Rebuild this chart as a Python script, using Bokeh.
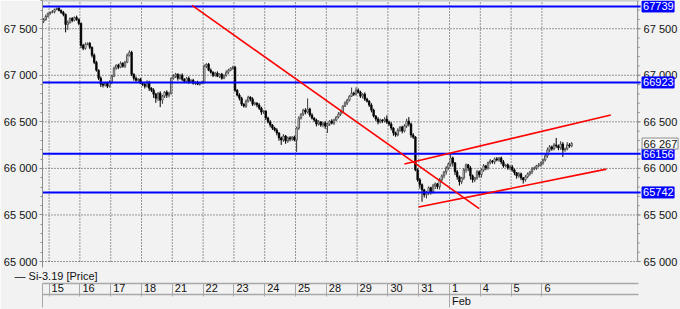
import numpy as np
from bokeh.plotting import figure
from bokeh.models import ColumnDataSource, Range1d, LinearAxis, FixedTicker, Title
from bokeh.core.properties import value
from bokeh.embed import file_html
from bokeh.resources import INLINE

# ---------------- data ----------------
instrument = "Si-3.19 [Price]"
day_labels = ["15", "16", "17", "18", "21", "22", "23", "24", "25", "28", "29", "30", "31", "1", "4", "5", "6"]
month_label = "Feb"
month_day = "1"

first_open = 67580
# hourly closes (last bars of 14 Jan, then 14 bars per trading day)
close_pre = [67600, 67632, 67664]
close_15 = [67675, 67685, 67707, 67717, 67696, 67675, 67653, 67546, 67568, 67610, 67589, 67621, 67600, 67557]
close_16 = [67322, 67289, 67332, 67343, 67300, 67215, 67140, 67054, 66968, 66904, 66894, 66915, 66883, 66926]
close_17 = [66990, 67075, 67108, 67086, 67129, 67097, 67140, 67215, 67247, 67011, 66968, 66947, 66958, 66915]
close_18 = [66904, 66883, 66926, 66861, 66840, 66797, 66754, 66808, 66733, 66776, 66819, 66787, 66808, 66968]
close_21 = [66990, 67011, 66968, 67000, 66958, 66936, 66968, 66926, 66947, 66915, 66926, 66904, 66915, 66926]
close_22 = [67097, 67118, 67054, 67033, 67000, 67022, 66990, 67011, 66968, 67000, 67033, 67054, 67075, 67086]
close_23 = [66840, 66787, 66754, 66690, 66669, 66722, 66765, 66744, 66690, 66701, 66680, 66647, 66605, 66615]
close_24 = [66540, 66498, 66466, 66433, 66412, 66380, 66327, 66305, 66348, 66294, 66327, 66316, 66337, 66305]
close_25 = [66433, 66540, 66583, 66626, 66605, 66637, 66573, 66540, 66519, 66476, 66498, 66466, 66487, 66455]
close_28 = [66476, 66508, 66487, 66519, 66551, 66583, 66605, 66669, 66701, 66733, 66776, 66808, 66797, 66840]
close_29 = [66819, 66776, 66797, 66744, 66722, 66680, 66626, 66562, 66530, 66498, 66519, 66508, 66530, 66498]
close_30 = [66476, 66433, 66380, 66359, 66412, 66444, 66401, 66455, 66508, 66476, 66359, 66337, 65984, 65877]
close_31 = [65824, 65770, 65717, 65738, 65792, 65749, 65813, 65834, 65802, 65877, 65920, 65963, 66005, 66048]
close_01 = [66112, 66059, 65963, 65909, 65856, 65898, 65984, 66038, 66005, 65920, 65877, 65898, 65963, 65931]
close_04 = [65984, 66027, 66005, 66059, 66080, 66070, 66102, 66091, 66112, 66070, 66027, 66038, 66005, 66016]
close_05 = [65984, 65952, 65920, 65941, 65898, 65877, 65909, 65941, 65963, 65995, 66005, 66027, 66038, 66059]
close_06 = [66091, 66134, 66198, 66231, 66209, 66252, 66241, 66220, 66262, 66198, 66209, 66252, 66241, 66267]

# upper / lower shadow lengths (rub)
upw_pre = [15, 20, 10]
dnw_pre = [20, 15, 10]
upw_15 = [10, 15, 10, 11, 20, 10, 15, 10, 20, 10, 15, 10, 20, 10]
dnw_15 = [15, 10, 20, 10, 10, 15, 20, 85, 60, 15, 20, 10, 15, 20]
upw_16 = [10, 15, 20, 10, 15, 10, 20, 15, 10, 20, 15, 10, 15, 20]
dnw_16 = [30, 20, 15, 10, 20, 25, 20, 15, 20, 30, 25, 15, 20, 15]
upw_17 = [15, 20, 10, 15, 20, 10, 15, 20, 21, 15, 10, 20, 10, 15]
dnw_17 = [20, 10, 15, 20, 10, 15, 20, 10, 15, 20, 25, 15, 20, 10]
upw_18 = [15, 10, 20, 15, 10, 20, 15, 10, 20, 15, 10, 20, 15, 10]
dnw_18 = [20, 25, 15, 30, 20, 40, 50, 30, 75, 40, 20, 30, 25, 15]
upw_21 = [20, 15, 10, 15, 20, 10, 15, 20, 10, 15, 10, 15, 10, 15]
dnw_21 = [15, 20, 25, 15, 20, 10, 15, 20, 10, 15, 20, 10, 15, 10]
upw_22 = [20, 11, 15, 20, 10, 15, 20, 10, 15, 10, 20, 15, 10, 15]
dnw_22 = [15, 20, 10, 15, 20, 15, 10, 20, 15, 10, 15, 20, 10, 15]
upw_23 = [15, 10, 20, 15, 10, 20, 15, 10, 20, 15, 10, 20, 15, 10]
dnw_23 = [20, 15, 25, 20, 15, 20, 15, 25, 20, 15, 25, 20, 30, 20]
upw_24 = [10, 15, 20, 10, 15, 20, 10, 15, 20, 10, 15, 20, 10, 15]
dnw_24 = [20, 15, 25, 20, 15, 25, 30, 53, 20, 30, 20, 25, 20, 15]
upw_25 = [15, 20, 10, 15, 20, 115, 15, 20, 10, 15, 20, 10, 15, 20]
dnw_25 = [128, 20, 15, 20, 25, 15, 20, 15, 20, 25, 15, 20, 25, 30]
upw_28 = [15, 10, 20, 15, 10, 20, 15, 10, 20, 15, 10, 60, 15, 30]
dnw_28 = [75, 20, 15, 20, 10, 15, 20, 15, 10, 20, 15, 10, 20, 15]
upw_29 = [20, 15, 10, 20, 15, 10, 20, 15, 10, 20, 15, 10, 20, 40]
dnw_29 = [15, 20, 25, 20, 15, 20, 25, 15, 20, 25, 15, 20, 15, 20]
upw_30 = [15, 20, 10, 15, 20, 10, 15, 20, 25, 43, 15, 20, 10, 15]
dnw_30 = [20, 25, 30, 20, 15, 20, 25, 15, 20, 25, 30, 20, 15, 20]
upw_31 = [20, 15, 10, 20, 15, 10, 20, 15, 10, 20, 15, 10, 20, 15]
dnw_31 = [40, 128, 30, 40, 25, 30, 20, 35, 25, 30, 20, 25, 30, 20]
upw_01 = [43, 15, 10, 20, 15, 10, 20, 15, 10, 20, 15, 10, 20, 15]
dnw_01 = [30, 40, 35, 30, 40, 25, 20, 30, 35, 40, 30, 25, 20, 30]
upw_04 = [15, 20, 10, 15, 20, 10, 15, 20, 10, 15, 20, 10, 15, 20]
dnw_04 = [30, 20, 25, 20, 15, 20, 25, 15, 20, 25, 20, 15, 20, 25]
upw_05 = [20, 15, 10, 20, 15, 10, 20, 15, 10, 20, 15, 10, 20, 15]
dnw_05 = [20, 25, 30, 20, 25, 40, 20, 15, 20, 25, 15, 20, 15, 20]
upw_06 = [15, 20, 25, 20, 15, 20, 75, 15, 30, 20, 15, 30, 20, 15]
dnw_06 = [20, 15, 20, 25, 20, 15, 20, 25, 20, 75, 20, 15, 20, 15]

level_values = [67739, 66923, 66156, 65742]
last_price = 66267
y_ticks = [65000, 65500, 66000, 66500, 67000, 67500]
y_tick_labels = ["65 000", "65 500", "66 000", "66 500", "67 000", "67 500"]
y_minor_ticks = list(range(65000, 67801, 100))

# trend lines drawn on the chart: (bar index, price) end points
trend_down_x = [67.5, 198.0]
trend_down_y = [67750, 65567]
channel_top_x = [164.0, 257.8]
channel_top_y = [66048, 66573]
channel_bot_x = [170.5, 255.8]
channel_bot_y = [65585, 65992]

# ---------------- build table ----------------
close = np.array(close_pre + close_15 + close_16 + close_17 + close_18 + close_21 + close_22 + close_23 +
                 close_24 + close_25 + close_28 + close_29 + close_30 + close_31 + close_01 + close_04 +
                 close_05 + close_06, dtype=float)
upw = np.array(upw_pre + upw_15 + upw_16 + upw_17 + upw_18 + upw_21 + upw_22 + upw_23 + upw_24 + upw_25 +
               upw_28 + upw_29 + upw_30 + upw_31 + upw_01 + upw_04 + upw_05 + upw_06, dtype=float)
dnw = np.array(dnw_pre + dnw_15 + dnw_16 + dnw_17 + dnw_18 + dnw_21 + dnw_22 + dnw_23 + dnw_24 + dnw_25 +
               dnw_28 + dnw_29 + dnw_30 + dnw_31 + dnw_01 + dnw_04 + dnw_05 + dnw_06, dtype=float)
opn = np.concatenate([[first_open], close[:-1]])
n = len(close)
idx = np.arange(n)
top = np.maximum(opn, close)
bot = np.minimum(opn, close)
high = top + upw
low = bot - dnw
up = close >= opn
fill = np.where(up, "#ffffff", "#000000")
edge = np.where(up, "#3a3a3a", "#000000")

n_pre = len(close_pre)
per_day = len(close_15)
boundaries = [n_pre - 0.5 + per_day * k for k in range(len(day_labels))]

BG = "#f2f2f2"
FONT = "Liberation Sans"
GRID = "#3c3c3c"
AXC = "#8c8c8c"
SEP = "#a8a8a8"
TXT = "#111111"

# price-area geometry: bars map onto x pixels 40..637, prices 65000..67803 onto y 262..0
X0, X1 = -0.5, 270.0
S = 597 / (X1 - X0)                      # pixels per bar
Y_TOP = 67803
PX_PER_RUB = 262 / (Y_TOP - 65000)
FRAME_BOTTOM_PX = 268                    # frame runs a little below the 65 000 line


def px2x(px):
    return X0 + (px - 40) / S


Y_BOT = 65000 - (FRAME_BOTTOM_PX - 262) / PX_PER_RUB

# ---------------- chart ----------------
p = figure(width=680, height=309, x_range=Range1d(X0, px2x(680)), y_range=Range1d(Y_BOT, Y_TOP),
           output_backend="svg", toolbar_location=None, x_axis_location=None, y_axis_location="left",
           min_border_left=40, min_border_right=0, min_border_top=0, min_border_bottom=41,
           background_fill_color=BG, border_fill_color=BG, outline_line_color=None)
p.xgrid.visible = False
p.ygrid.visible = False

# left price scale (library axis)
lax = p.yaxis[0]
lax.ticker = FixedTicker(ticks=y_ticks, minor_ticks=y_minor_ticks)
lax.major_label_overrides = dict(zip(y_ticks, y_tick_labels))
lax.axis_line_color = AXC
lax.major_tick_line_color = AXC
lax.minor_tick_line_color = AXC
lax.major_tick_in = 0
lax.major_tick_out = 3
lax.minor_tick_in = 0
lax.minor_tick_out = 2
lax.major_label_standoff = 2
lax.major_label_text_font = FONT
lax.major_label_text_font_size = "11px"
lax.major_label_text_color = TXT

# dotted grid inside the price area
p.segment(x0=[X0] * len(y_ticks), y0=y_ticks, x1=[X1] * len(y_ticks), y1=y_ticks,
          line_color=GRID, line_dash="1 2", line_width=1)
p.segment(x0=boundaries, y0=[65000] * len(boundaries), x1=boundaries, y1=[Y_TOP] * len(boundaries),
          line_color=GRID, line_dash="1 2", line_width=1)
# top edge and right price-scale line
p.segment(x0=[X0], y0=[Y_TOP], x1=[X1], y1=[Y_TOP], line_color="#a0a0a0", line_width=1.5)
p.segment(x0=[X1], y0=[65000], x1=[X1], y1=[Y_TOP], line_color=AXC, line_width=1)

# candles
src = ColumnDataSource(dict(x=idx, high=high, low=low, top=top, bot=bot, fill=fill, edge=edge))
p.segment(x0="x", y0="low", x1="x", y1="high", line_color="edge", line_width=1, source=src)
p.vbar(x="x", width=0.66, top="top", bottom="bot", fill_color="fill", line_color="edge",
       line_width=0.8, source=src)

# horizontal levels and trend lines
lv_end = px2x(640)
p.segment(x0=[X0] * len(level_values), y0=level_values, x1=[lv_end] * len(level_values), y1=level_values,
          line_color="#0000ff", line_width=2)
for xs, ys in [(trend_down_x, trend_down_y), (channel_top_x, channel_top_y), (channel_bot_x, channel_bot_y)]:
    p.line(xs, ys, line_color="#ff0000", line_width=1.6)

# right price scale: ticks, labels, level tags
p.segment(x0=[X1] * len(y_ticks), y0=y_ticks, x1=[px2x(640)] * len(y_ticks), y1=y_ticks,
          line_color=AXC, line_width=1)
p.segment(x0=[X1] * len(y_minor_ticks), y0=y_minor_ticks, x1=[px2x(639)] * len(y_minor_ticks),
          y1=y_minor_ticks, line_color=AXC, line_width=1)
lab_x = px2x(643)
p.text(x=[lab_x] * len(y_ticks), y=y_ticks, text=y_tick_labels, text_font=value(FONT),
       text_font_size="11px", text_color=TXT, text_baseline="middle", text_align="left")
p.rect(x=[px2x(657.5)] * len(level_values), y=level_values, width=32, height=11,
       width_units="screen", height_units="screen", fill_color="#0000ff", line_color="#0000ff")
p.text(x=[px2x(642.5)] * len(level_values), y=level_values, text=[str(v) for v in level_values],
       text_font=value(FONT), text_font_size="11px", text_color="#ffffff",
       text_baseline="middle", text_align="left")
last_txt = f"{last_price:,}".replace(",", " ")
p.rect(x=[px2x(659.5)], y=[last_price], width=36, height=11, width_units="screen", height_units="screen",
       fill_color="#fafafa", line_color="#8c8c8c")
p.text(x=[lab_x], y=[last_price], text=[last_txt], text_font=value(FONT), text_font_size="11px",
       text_color=TXT, text_baseline="middle", text_align="left")

# series caption row
caption = Title(text="\u2014 " + instrument, align="left", offset=-28, standoff=2, vertical_align="middle",
                text_font=FONT, text_font_size="11px", text_font_style="normal", text_color=TXT)
p.add_layout(caption, "below")

# date row (day numbers) and month row as bottom scales
row_end = px2x(638)
day_ticks = [round(b + (2.5 + 6.12 * len(l) / 2) / S, 4) for b, l in zip(boundaries, day_labels)]
date_axis = LinearAxis(ticker=FixedTicker(ticks=day_ticks, minor_ticks=[X0] + boundaries),
                       major_label_overrides=dict(zip(day_ticks, day_labels)), bounds=(X0, row_end))
mb = boundaries[day_labels.index(month_day)]
month_tick = round(mb + (2.5 + 19.0 / 2) / S, 4)
month_axis = LinearAxis(ticker=FixedTicker(ticks=[month_tick], minor_ticks=[X0, mb]),
                        major_label_overrides={month_tick: month_label}, bounds=(X0, row_end))
for ax in (date_axis, month_axis):
    ax.axis_line_color = SEP
    ax.axis_line_width = 1.3
    ax.major_tick_line_color = None
    ax.major_tick_in = 0
    ax.major_tick_out = 0
    ax.minor_tick_line_color = SEP
    ax.minor_tick_in = -13
    ax.minor_tick_out = 0
    ax.major_label_standoff = 0
    ax.major_label_text_font = FONT
    ax.major_label_text_font_size = "11px"
    ax.major_label_text_color = TXT
    p.add_layout(ax, "below")

open("out.html", "w").write(file_html(p, INLINE))
